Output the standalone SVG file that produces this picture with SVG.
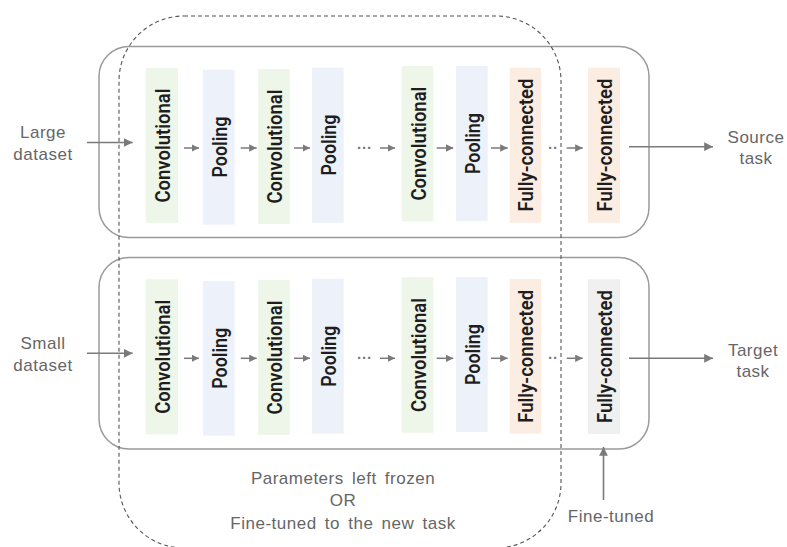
<svg xmlns="http://www.w3.org/2000/svg" width="787" height="547" viewBox="0 0 787 547">
<defs>
<style>
.panel{fill:none;stroke:#9a9a9a;stroke-width:1.5}
.frozen{fill:none;stroke:#555;stroke-width:1.1;stroke-dasharray:4 3}
.conv{fill:#eef6e9}
.pool{fill:#edf1f9}
.fc{fill:#fcede3}
.ft{fill:#f0f0f0}
.vl{font-family:Roboto,"Liberation Sans",sans-serif;font-weight:600;font-size:20px;fill:#1e1e1e;text-anchor:middle}
.lbl{font-family:"Liberation Sans",Arial,sans-serif;font-size:17px;fill:#666;text-anchor:middle;letter-spacing:0.5px}
.dots{font-family:"Liberation Sans",Arial,sans-serif;font-size:15px;font-weight:700;fill:#777}
.ar{stroke:#7a7a7a;stroke-width:1.5;fill:none;marker-end:url(#ah)}
.arb{stroke:#7a7a7a;stroke-width:1.6;fill:none;marker-end:url(#ahb)}
</style>
<marker id="ah" viewBox="0 0 10 10" refX="10" refY="5" markerWidth="5" markerHeight="5" orient="auto" markerUnits="strokeWidth">
<path d="M0,0 L10,5 L0,10 Z" fill="#7a7a7a"/>
</marker>
<marker id="ahb" viewBox="0 0 10 10" refX="10" refY="5" markerWidth="5.5" markerHeight="5.5" orient="auto" markerUnits="strokeWidth">
<path d="M0,0 L10,5 L0,10 Z" fill="#7a7a7a"/>
</marker>
</defs>
<rect width="787" height="547" fill="#ffffff"/>

<g id="source-panel"><rect class="panel" x="99" y="46.5" width="550" height="191" rx="30"/></g>
<g id="target-panel"><rect class="panel" x="99" y="257.5" width="550" height="191.5" rx="30"/></g>
<g id="frozen-region"><rect class="frozen" x="119" y="16" width="442" height="532" rx="65"/></g>

<!-- top row -->
<g id="s-conv1"><rect class="conv" x="145.7" y="68" width="32.3" height="155"/><text class="vl" transform="translate(162,145.5) rotate(-90)" y="8" textLength="114" lengthAdjust="spacingAndGlyphs">Convolutional</text></g>
<g id="s-pool1"><rect class="pool" x="203" y="69.7" width="31.7" height="155"/><text class="vl" transform="translate(218.8,147) rotate(-90)" y="8" textLength="61" lengthAdjust="spacingAndGlyphs">Pooling</text></g>
<g id="s-conv2"><rect class="conv" x="258.3" y="69" width="31.4" height="155"/><text class="vl" transform="translate(274,146.5) rotate(-90)" y="8" textLength="114" lengthAdjust="spacingAndGlyphs">Convolutional</text></g>
<g id="s-pool2"><rect class="pool" x="312" y="67.7" width="31.7" height="155"/><text class="vl" transform="translate(327.8,145) rotate(-90)" y="8" textLength="61" lengthAdjust="spacingAndGlyphs">Pooling</text></g>
<g id="s-conv3"><rect class="conv" x="401.7" y="66" width="31.6" height="155.3"/><text class="vl" transform="translate(417.5,143.6) rotate(-90)" y="8" textLength="114" lengthAdjust="spacingAndGlyphs">Convolutional</text></g>
<g id="s-pool3"><rect class="pool" x="456" y="66" width="31.7" height="155"/><text class="vl" transform="translate(471.8,143.5) rotate(-90)" y="8" textLength="61" lengthAdjust="spacingAndGlyphs">Pooling</text></g>
<g id="s-fc1"><rect class="fc" x="509.7" y="67.7" width="31.3" height="155"/><text class="vl" transform="translate(525.3,145) rotate(-90)" y="8" textLength="133" lengthAdjust="spacingAndGlyphs">Fully-connected</text></g>
<g id="s-fc2"><rect class="fc" x="588" y="67.7" width="32" height="155"/><text class="vl" transform="translate(604,145) rotate(-90)" y="8" textLength="133" lengthAdjust="spacingAndGlyphs">Fully-connected</text></g>

<!-- bottom row -->
<g id="t-conv1"><rect class="conv" x="145.7" y="279.3" width="32.3" height="155"/><text class="vl" transform="translate(162,356.8) rotate(-90)" y="8" textLength="114" lengthAdjust="spacingAndGlyphs">Convolutional</text></g>
<g id="t-pool1"><rect class="pool" x="203" y="281" width="31.7" height="154.7"/><text class="vl" transform="translate(218.8,358.3) rotate(-90)" y="8" textLength="61" lengthAdjust="spacingAndGlyphs">Pooling</text></g>
<g id="t-conv2"><rect class="conv" x="258.3" y="280" width="31.4" height="155"/><text class="vl" transform="translate(274,357.5) rotate(-90)" y="8" textLength="114" lengthAdjust="spacingAndGlyphs">Convolutional</text></g>
<g id="t-pool2"><rect class="pool" x="312" y="279" width="31.7" height="154.7"/><text class="vl" transform="translate(327.8,356.3) rotate(-90)" y="8" textLength="61" lengthAdjust="spacingAndGlyphs">Pooling</text></g>
<g id="t-conv3"><rect class="conv" x="401.7" y="277.3" width="31.6" height="155.4"/><text class="vl" transform="translate(417.5,355) rotate(-90)" y="8" textLength="114" lengthAdjust="spacingAndGlyphs">Convolutional</text></g>
<g id="t-pool3"><rect class="pool" x="456" y="277" width="31.7" height="155"/><text class="vl" transform="translate(471.8,354.5) rotate(-90)" y="8" textLength="61" lengthAdjust="spacingAndGlyphs">Pooling</text></g>
<g id="t-fc1"><rect class="fc" x="509.7" y="279" width="31.3" height="154.7"/><text class="vl" transform="translate(525.3,356.3) rotate(-90)" y="8" textLength="133" lengthAdjust="spacingAndGlyphs">Fully-connected</text></g>
<g id="t-fc2"><rect class="ft" x="588" y="279.3" width="32" height="154.7"/><text class="vl" transform="translate(604,356.6) rotate(-90)" y="8" textLength="133" lengthAdjust="spacingAndGlyphs">Fully-connected</text></g>

<!-- labels -->
<g id="large-dataset"><text class="lbl" x="43" y="138">Large</text><text class="lbl" x="43" y="160">dataset</text></g>
<g id="small-dataset"><text class="lbl" x="43" y="349">Small</text><text class="lbl" x="43" y="370.5">dataset</text></g>
<g id="source-task"><text class="lbl" x="756" y="143">Source</text><text class="lbl" x="756" y="164">task</text></g>
<g id="target-task"><text class="lbl" x="753" y="356">Target</text><text class="lbl" x="753" y="377">task</text></g>
<g id="frozen-label"><text class="lbl" x="343" y="483.5" word-spacing="3">Parameters left frozen</text><text class="lbl" x="343" y="506">OR</text><text class="lbl" x="343" y="529" word-spacing="3">Fine-tuned to the new task</text></g>
<g id="fine-tuned-label"><text class="lbl" x="611" y="521.5">Fine-tuned</text></g>

<g id="connectors">
<line class="arb" x1="87" y1="142.5" x2="132.7" y2="142.5"/>
<line class="ar" x1="184" y1="148" x2="199" y2="148"/>
<line class="ar" x1="240.7" y1="148" x2="256.7" y2="148"/>
<line class="ar" x1="294" y1="148" x2="310" y2="148"/>
<text class="dots" x="357" y="152.5">···</text>
<line class="ar" x1="380" y1="148" x2="395" y2="148"/>
<line class="ar" x1="436.7" y1="148" x2="453.3" y2="148"/>
<line class="ar" x1="491" y1="148" x2="507.7" y2="148"/>
<text class="dots" x="548" y="152.5">··</text>
<line class="ar" x1="566.7" y1="148" x2="582.7" y2="148"/>
<line class="arb" x1="629" y1="146.7" x2="713" y2="146.7"/>

<line class="arb" x1="87" y1="353.3" x2="132.7" y2="353.3"/>
<line class="ar" x1="184" y1="358.3" x2="199" y2="358.3"/>
<line class="ar" x1="240.7" y1="358.3" x2="256.7" y2="358.3"/>
<line class="ar" x1="294" y1="358.3" x2="310" y2="358.3"/>
<text class="dots" x="357" y="362.8">···</text>
<line class="ar" x1="380" y1="358.3" x2="395" y2="358.3"/>
<line class="ar" x1="436.7" y1="358.3" x2="453.3" y2="358.3"/>
<line class="ar" x1="491" y1="358.3" x2="507.7" y2="358.3"/>
<text class="dots" x="548" y="362.8">··</text>
<line class="ar" x1="566.7" y1="358.3" x2="582.7" y2="358.3"/>
<line class="arb" x1="629" y1="358.3" x2="713" y2="358.3"/>

<line class="arb" x1="603.5" y1="500" x2="603.5" y2="447"/>
</g>
</svg>
